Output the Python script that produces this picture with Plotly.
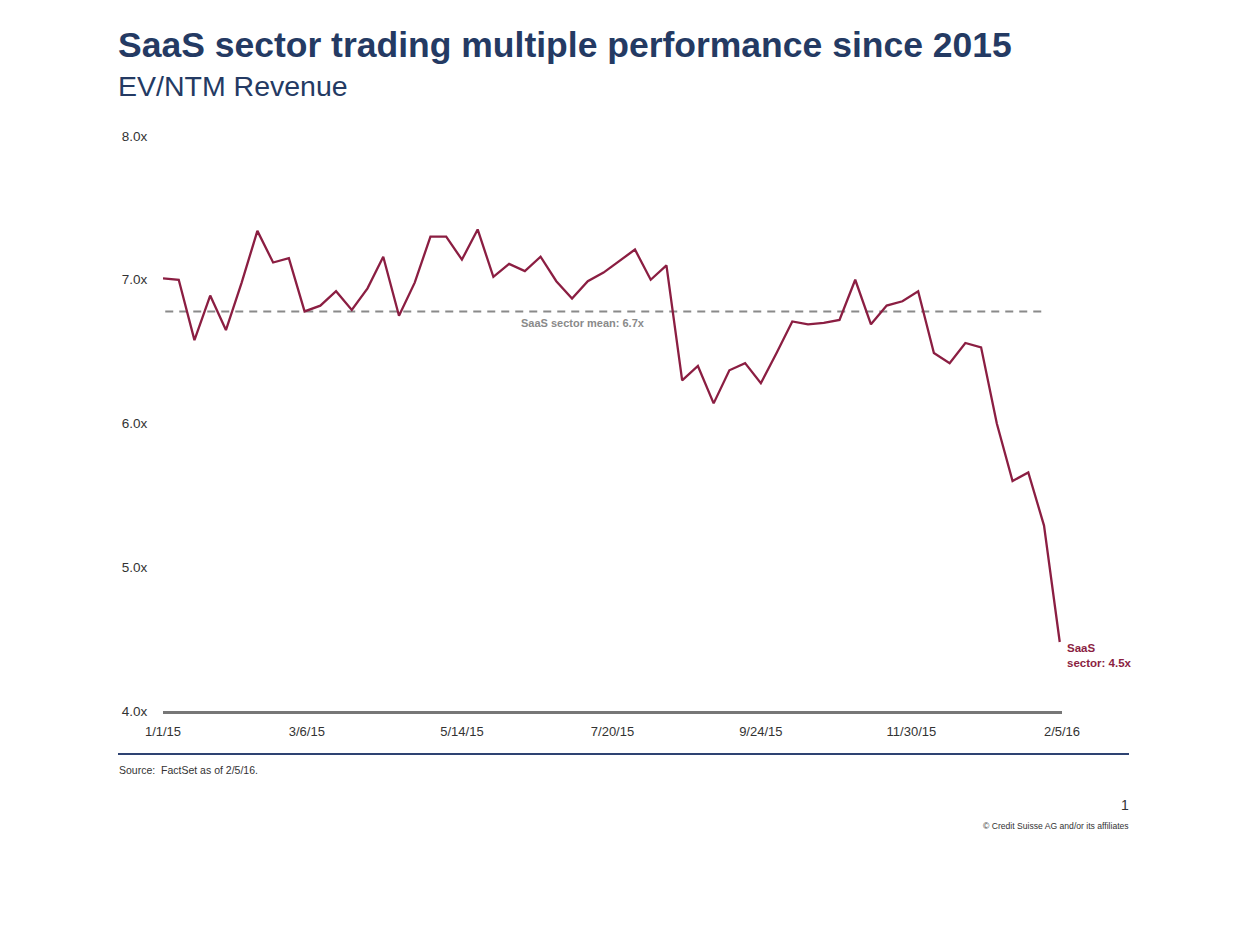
import pandas as pd
import plotly.graph_objects as go

# ---------------- data ----------------
dates = pd.date_range("2015-01-01", periods=58, freq="7D")  # weekly observations
ev_ntm = [7.01, 7.00, 6.58, 6.89, 6.65, 6.98, 7.34, 7.12, 7.15, 6.78,
          6.82, 6.92, 6.79, 6.94, 7.16, 6.75, 6.98, 7.30, 7.30, 7.14,
          7.35, 7.02, 7.11, 7.06, 7.16, 6.99, 6.87, 6.99, 7.05, 7.13,
          7.21, 7.00, 7.10, 6.30, 6.40, 6.14, 6.37, 6.42, 6.28, 6.49,
          6.71, 6.69, 6.70, 6.72, 7.00, 6.69, 6.82, 6.85, 6.92, 6.49,
          6.42, 6.56, 6.53, 6.00, 5.60, 5.66, 5.29, 4.48]
mean_value = 6.78
mean_span = ["2015-01-02", "2016-01-29"]
tick_dates = ["2015-01-01", "2015-03-06", "2015-05-14", "2015-07-20",
              "2015-09-24", "2015-11-30", "2016-02-05"]
tick_labels = ["1/1/15", "3/6/15", "5/14/15", "7/20/15", "9/24/15", "11/30/15", "2/5/16"]
y_ticks = [4, 5, 6, 7, 8]
y_tick_labels = ["4.0x", "5.0x", "6.0x", "7.0x", "8.0x"]

# ---------------- layout helpers ----------------
OFF = 8  # default page body margin
W, H = 1242 - 2 * OFF, 940 - 2 * OFF
L, R, T, B = 163, 1062, 136, 711  # plot area in page pixels


def px_x(px):
    return (px - L) / (R - L)


def px_y(py):
    return (B - py) / (B - T)


FONT = "Liberation Sans, Arial, Helvetica, sans-serif"
NAVY = "#243a63"
LINE = "#8b1e42"

fig = go.Figure()

fig.add_trace(go.Scatter(
    x=mean_span, y=[mean_value, mean_value], mode="lines",
    line=dict(color="#8a8a8a", width=2, dash="8px,6px"),
    hoverinfo="skip"))

fig.add_trace(go.Scatter(
    x=dates, y=ev_ntm, mode="lines",
    line=dict(color=LINE, width=2.3), name="SaaS sector"))

annotations = [
    dict(text="<b>SaaS sector trading multiple performance since 2015</b>",
         x=px_x(116), y=px_y(45), xanchor="left", yanchor="middle",
         font=dict(family=FONT, size=35.5, color=NAVY)),
    dict(text="EV/NTM Revenue",
         x=px_x(116), y=px_y(86), xanchor="left", yanchor="middle",
         font=dict(family=FONT, size=28.5, color=NAVY)),
    dict(text="<b>SaaS sector mean: 6.7x</b>",
         x=px_x(583), y=px_y(323), xanchor="center", yanchor="middle",
         font=dict(family=FONT, size=11, color="#8a8a8a")),
    dict(text="<b>SaaS<br>sector: 4.5x</b>",
         x=dates[-1], xref="x", y=ev_ntm[-1], yref="y",
         xshift=5, yshift=-13, xanchor="left", yanchor="middle", align="left",
         font=dict(family=FONT, size=11.5, color=LINE)),
    dict(text="Source:  FactSet as of 2/5/16.",
         x=px_x(117), y=px_y(770), xanchor="left", yanchor="middle",
         font=dict(family=FONT, size=10.5, color="#333333")),
    dict(text="1",
         x=px_x(1131), y=px_y(805), xanchor="right", yanchor="middle",
         font=dict(family=FONT, size=14, color="#333333")),
    dict(text="© Credit Suisse AG and/or its affiliates",
         x=px_x(1131), y=px_y(826), xanchor="right", yanchor="middle",
         font=dict(family=FONT, size=8.6, color="#333333")),
]
for a in annotations:
    a.setdefault("xref", "paper")
    a.setdefault("yref", "paper")
    a["showarrow"] = False

fig.update_layout(
    width=W, height=H, autosize=False,
    margin=dict(l=L - OFF, r=W - (R - OFF), t=T - OFF, b=H - (B - OFF), pad=0),
    paper_bgcolor="white", plot_bgcolor="white",
    showlegend=False,
    annotations=annotations,
    shapes=[dict(type="line", xref="paper", yref="paper",
                 x0=px_x(118), x1=px_x(1129), y0=px_y(754), y1=px_y(754),
                 line=dict(color="#2e4372", width=2))],
    xaxis=dict(type="date", range=["2015-01-01", "2016-02-05"],
               tickvals=tick_dates, ticktext=tick_labels,
               showgrid=False, zeroline=False,
               showline=True, linecolor="#777777", linewidth=2.5,
               ticks="outside", ticklen=7, tickcolor="rgba(0,0,0,0)",
               tickfont=dict(family=FONT, size=13, color="#333333")),
    yaxis=dict(range=[4, 8], tickvals=y_ticks, ticktext=y_tick_labels,
               showgrid=False, zeroline=False, showline=False,
               ticks="outside", ticklen=12, tickcolor="rgba(0,0,0,0)",
               tickfont=dict(family=FONT, size=13.5, color="#333333")),
)

fig.write_html("out.html")
